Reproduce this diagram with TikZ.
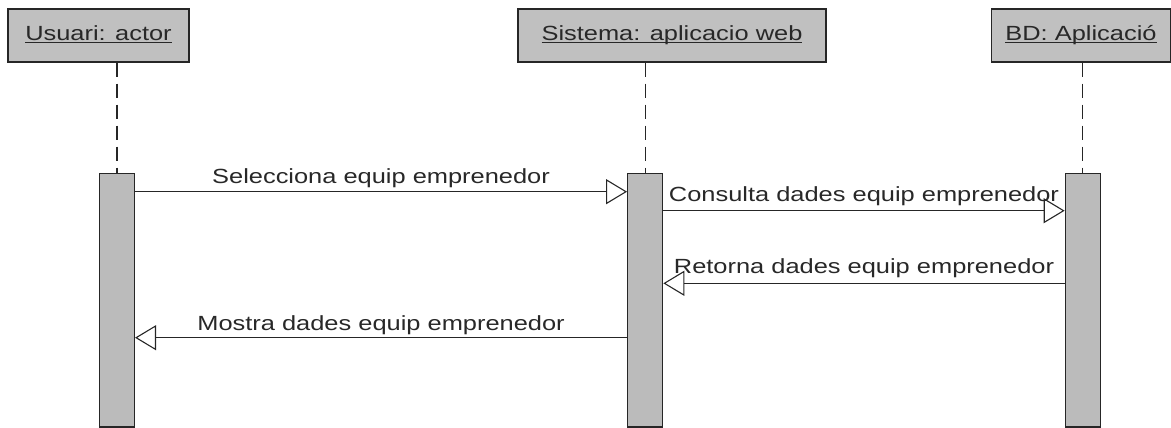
\documentclass[tikz,border=0pt]{standalone}
\usepackage{fontspec}
\setmainfont{Liberation Sans}[FakeStretch=1.24]
\usetikzlibrary{arrows.meta}
\definecolor{headfill}{RGB}{192,192,192}
\definecolor{barfill}{RGB}{187,187,187}
\definecolor{ink}{RGB}{40,40,40}
\newcommand\myul[1]{\sbox0{#1}\rlap{\rule[-2pt]{\wd0}{0.9pt}}\usebox0}
\begin{document}
\begin{tikzpicture}[x=1pt,y=-1pt,
  every node/.style={font=\fontsize{20.5pt}{24pt}\selectfont, text=ink},
  head/.style={draw=black!85, line width=1.3pt, fill=headfill, minimum height=53pt, inner sep=0pt},
  headlab/.style={anchor=base, inner sep=0pt},
  actbar/.style={draw=black!85, line width=1.3pt, fill=barfill, minimum width=35pt, minimum height=253.5pt, inner sep=0pt},
  life/.style={draw=black!85, line width=1.2pt, dash pattern=on 14pt off 7pt},
  msg/.style={draw=black!85, line width=1.2pt, -{Triangle[open, length=21pt, width=25pt, line width=1.1pt]}},
  lab/.style={anchor=base, inner sep=0pt}
]
\useasboundingbox (0,0) rectangle (1171,428);
% headers
\node[head, minimum width=181pt] (u) at (98.5,35.5) {};
\node[headlab] (ut) at (98.5,40.7) {\myul{Usuari: actor}};
\node[head, minimum width=308pt] (s) at (672,35.5) {};
\node[headlab] (st) at (672,40.7) {\myul{Sistema: aplicacio web}};
\node[head, minimum width=178.5pt] (b) at (1080.9,35.5) {};
\node[headlab] (bt) at (1081,40.7) {\myul{BD: Aplicació}};
% activation bars
\node[actbar] (ua) at (116.9,300.1) {};
\node[actbar] (sa) at (645.2,300.1) {};
\node[actbar] (ba) at (1082.8,300.1) {};
% lifelines
\draw[life] (ua.north |- u.south) -- (ua.north);
\draw[life] (sa.north |- s.south) -- (sa.north);
\draw[life] (ba.north |- b.south) -- (ba.north);
% message levels
\coordinate (m1) at (0,191.7);
\coordinate (m2) at (0,210.7);
\coordinate (m3) at (0,283.3);
\coordinate (m4) at (0,337.7);
% messages
\draw[msg] (ua.east |- m1) -- node[lab, yshift=8.4pt] (l1) {Selecciona equip emprenedor} (sa.west |- m1);
\draw[msg] (sa.east |- m2) -- node[lab, yshift=9pt] (l2) {Consulta dades equip emprenedor} (ba.west |- m2);
\draw[msg] (ba.west |- m3) -- node[lab, yshift=10.3pt] (l3) {Retorna dades equip emprenedor} (sa.east |- m3);
\draw[msg] (sa.west |- m4) -- node[lab, yshift=7.7pt] (l4) {Mostra dades equip emprenedor} (ua.east |- m4);
\end{tikzpicture}
\end{document}
